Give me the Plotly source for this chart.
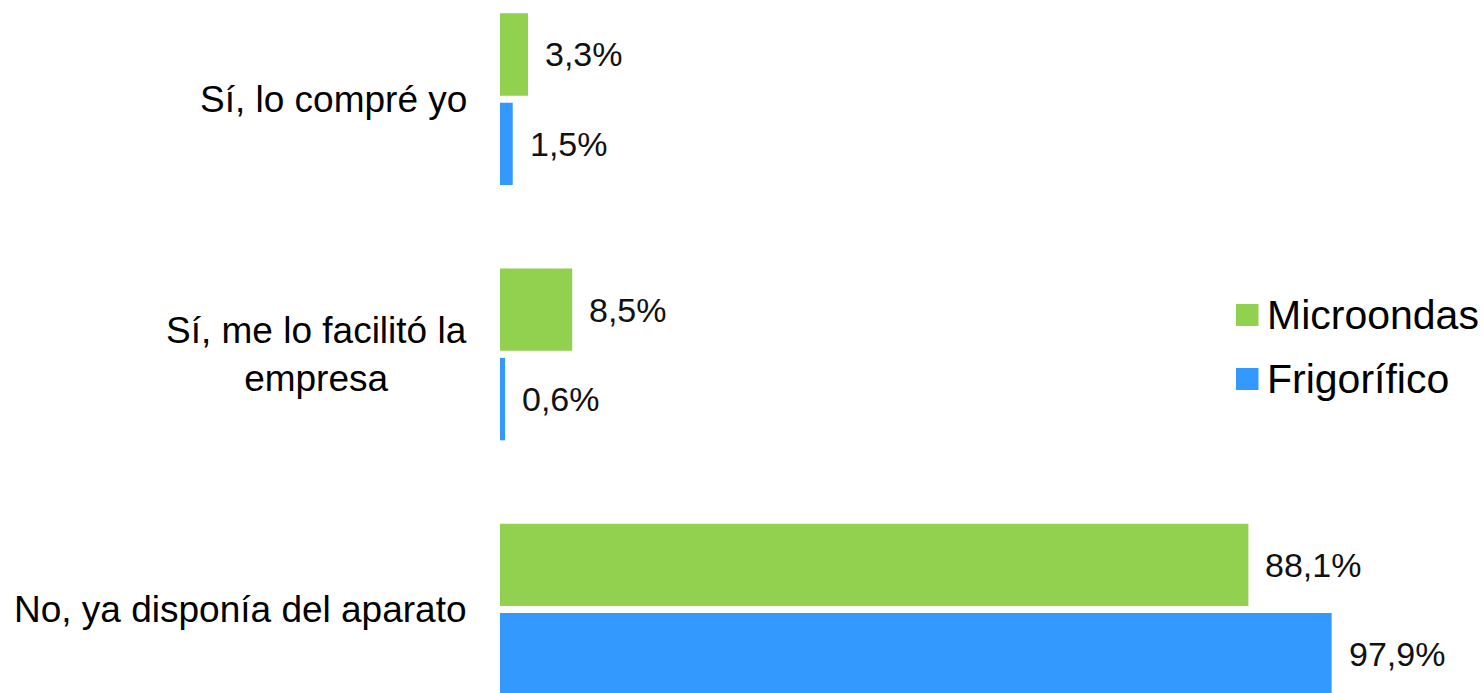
import plotly.graph_objects as go

# Survey answers (top to bottom) and share of respondents per appliance, in %
categories = ["Sí, lo compré yo", "Sí, me lo facilitó la empresa", "No, ya disponía del aparato"]
tick_labels = ["Sí, lo compré yo", "Sí, me lo facilitó la<br>empresa", "No, ya disponía del aparato"]
series_names = ["Microondas", "Frigorífico"]
microondas = [3.3, 8.5, 88.1]
frigorifico = [1.5, 0.6, 97.9]

colors = ["#92D050", "#3399FF"]
W, H = 1483, 693
LEFT = 500
FONT = "Liberation Sans, Arial, sans-serif"

fig = go.Figure()

bar_width = 0.323
offsets = [-0.338, 0.0125]
for name, vals, color, off in zip(series_names, [microondas, frigorifico], colors, offsets):
    fig.add_trace(go.Bar(
        name=name, orientation="h", x=vals, y=categories,
        width=bar_width, offset=off, marker=dict(color=color, line=dict(width=0)),
        showlegend=False, hoverinfo="skip",
    ))

annotations = []
# category labels, right aligned against the plot, centred lines
for cat, lab in zip(categories, tick_labels):
    annotations.append(dict(
        x=0, xref="paper", y=cat, yref="y", text=lab, showarrow=False,
        xanchor="right", yanchor="middle", align="center", xshift=-31,
        font=dict(family=FONT, size=37, color="#000000"),
    ))

# value labels next to each bar
px_per_unit = 255.2
for vals, off in zip([microondas, frigorifico], offsets):
    shift = -(off + bar_width / 2) * px_per_unit
    for cat, v in zip(categories, vals):
        annotations.append(dict(
            x=v, xref="x", y=cat, yref="y",
            text=f"{v:.1f}%".replace(".", ","), showarrow=False,
            xanchor="left", yanchor="middle", xshift=15, yshift=shift,
            font=dict(family=FONT, size=34, color="#111111"),
        ))

def px_x(p):
    return (p - LEFT) / (W - LEFT)

def px_y(p):
    return 1 - p / H

# legend: coloured squares with labels
shapes = []
legend_rows = [315, 379]
for name, color, cy in zip(series_names, colors, legend_rows):
    shapes.append(dict(
        type="rect", xref="paper", yref="paper",
        x0=px_x(1236), x1=px_x(1258.5), y0=px_y(cy + 11), y1=px_y(cy - 11),
        fillcolor=color, line=dict(width=0),
    ))
    annotations.append(dict(
        x=px_x(1265), xref="paper", y=px_y(cy), yref="paper", text=name,
        showarrow=False, xanchor="left", yanchor="middle",
        font=dict(family=FONT, size=41, color="#000000"),
    ))

x_max = (W - LEFT) / 8.495
fig.update_layout(
    width=W, height=H,
    margin=dict(l=LEFT, r=0, t=0, b=0),
    paper_bgcolor="white", plot_bgcolor="white",
    barmode="overlay",
    showlegend=False,
    annotations=annotations, shapes=shapes,
    xaxis=dict(range=[0, x_max], visible=False, fixedrange=True),
    yaxis=dict(type="category", categoryorder="array", categoryarray=categories,
               range=[(H - 99.5) / px_per_unit, -99.5 / px_per_unit],
               showticklabels=False, showgrid=False, zeroline=False,
               showline=False, ticks="", fixedrange=True),
)

fig.write_html("out.html", config={"displayModeBar": False})
